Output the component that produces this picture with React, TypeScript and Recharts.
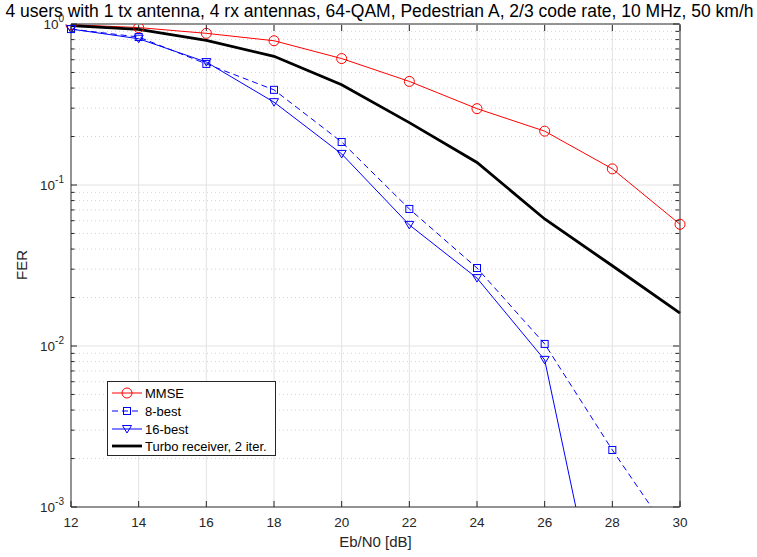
import { LineChart, Line, XAxis, YAxis, ReferenceLine, Legend, Label } from "recharts";

// Eb/N0 in dB and the frame error rate of each receiver
const ebn0 = [12, 14, 16, 18, 20, 22, 24, 26, 28, 30];
const ferMmse = [0.99, 0.95, 0.875, 0.787, 0.61, 0.44, 0.298, 0.216, 0.126, 0.057];
const fer8Best = [0.93, 0.83, 0.565, 0.39, 0.185, 0.071, 0.0305, 0.0103, 0.00226, 0.00055];
const fer16Best = [0.93, 0.81, 0.58, 0.327, 0.156, 0.0565, 0.0264, 0.0082, 0.000085, null];
const ferTurbo = [0.976, 0.927, 0.79, 0.63, 0.42, 0.244, 0.138, 0.0615, 0.0315, 0.016];

const xTicks = [12, 14, 16, 18, 20, 22, 24, 26, 28, 30];
const yMajor = [0.001, 0.01, 0.1, 1];
const yMinor = [
  0.002, 0.003, 0.004, 0.005, 0.006, 0.007, 0.008, 0.009,
  0.02, 0.03, 0.04, 0.05, 0.06, 0.07, 0.08, 0.09,
  0.2, 0.3, 0.4, 0.5, 0.6, 0.7, 0.8, 0.9,
];
const yTicks = [...yMajor, ...yMinor].sort((a, b) => a - b);

const title =
  "4 users with 1 tx antenna, 4 rx antennas, 64-QAM, Pedestrian A, 2/3 code rate, 10 MHz, 50 km/h";

const FONT = '"Liberation Sans", Arial, Helvetica, sans-serif';
const AXIS = "#262626";
const GRID = "#e2e2e2";

type Kind = "circle" | "square" | "triangle" | "none";

const series: Array<{ key: string; name: string; color: string; width: number; dash?: string; marker: Kind }> = [
  { key: "mmse", name: "MMSE", color: "#ff0000", width: 1, marker: "circle" },
  { key: "b8", name: "8-best", color: "#0000ff", width: 1, dash: "6 4", marker: "square" },
  { key: "b16", name: "16-best", color: "#0000ff", width: 1, marker: "triangle" },
  { key: "turbo", name: "Turbo receiver, 2 iter.", color: "#000000", width: 2.8, marker: "none" },
];

const data = ebn0.map((x, i) => ({
  x,
  mmse: ferMmse[i],
  b8: fer8Best[i],
  b16: fer16Best[i],
  turbo: ferTurbo[i],
}));

function Marker({ kind, cx, cy, color }: { kind: Kind; cx: number; cy: number; color: string }) {
  if (kind === "circle") return <circle cx={cx} cy={cy} r={5} fill="none" stroke={color} strokeWidth={1} />;
  if (kind === "square")
    return <rect x={cx - 3.5} y={cy - 3.5} width={7} height={7} fill="none" stroke={color} strokeWidth={1} />;
  if (kind === "triangle")
    return (
      <path
        d={`M${cx - 4.5},${cy - 3.5} L${cx + 4.5},${cy - 3.5} L${cx},${cy + 4} Z`}
        fill="none"
        stroke={color}
        strokeWidth={1}
      />
    );
  return null;
}

const isDecade = (v: number) => yMajor.some((m) => Math.abs(m - v) < m * 1e-6);

function LeftTick(props: any) {
  const { x, y, payload } = props;
  const ax = x + 4;
  const major = isDecade(payload.value);
  return (
    <g>
      <line x1={ax} x2={ax + (major ? 6 : 3.5)} y1={y} y2={y} stroke={AXIS} />
      {major && (
        <text x={ax - 7} y={y + 5} textAnchor="end" fill={AXIS} fontSize={13.5} fontFamily={FONT}>
          <tspan>10</tspan>
          <tspan dy={-7} fontSize={10}>
            {Math.round(Math.log10(payload.value))}
          </tspan>
        </text>
      )}
    </g>
  );
}

function RightTick(props: any) {
  const { x, y, payload } = props;
  const major = isDecade(payload.value);
  return <line x1={x - 1} x2={x - 1 - (major ? 6 : 3.5)} y1={y} y2={y} stroke={AXIS} />;
}

function BottomTick(props: any) {
  const { x, y, payload } = props;
  return (
    <g>
      <line x1={x} x2={x} y1={y} y2={y - 6} stroke={AXIS} />
      <text x={x} y={y + 20} textAnchor="middle" fill={AXIS} fontSize={13.5} fontFamily={FONT}>
        {payload.value}
      </text>
    </g>
  );
}

function TopTick(props: any) {
  const { x, y } = props;
  return <line x1={x} x2={x} y1={y + 1} y2={y + 7} stroke={AXIS} />;
}

function LegendBox() {
  const rows = [12, 30, 48, 65];
  return (
    <svg width={170} height={76} style={{ display: "block" }}>
      <rect x={0.5} y={0.5} width={168} height={74} fill="#fff" stroke={AXIS} strokeWidth={1} />
      {series.map((s, i) => (
        <g key={s.key}>
          <line
            x1={5}
            x2={35}
            y1={rows[i]}
            y2={rows[i]}
            stroke={s.color}
            strokeWidth={s.width}
            strokeDasharray={s.dash}
          />
          <Marker kind={s.marker} cx={20} cy={rows[i]} color={s.color} />
          <text x={38} y={rows[i] + 4.5} fontSize={13} fontFamily={FONT} fill="#000">
            {s.name}
          </text>
        </g>
      ))}
    </svg>
  );
}

export default function App() {
  return (
    <div style={{ position: "absolute", left: 0, top: 0, width: 757, height: 557, background: "#fff" }}>
      <div
        style={{
          position: "absolute",
          left: 0,
          top: 1,
          width: 757,
          textAlign: "center",
          fontFamily: FONT,
          fontSize: 17.5,
          lineHeight: "20px",
          whiteSpace: "nowrap",
          color: "#000",
          paddingLeft: 1,
        }}
      >
        {title}
      </div>
      <LineChart width={757} height={557} data={data} margin={{ top: 23, right: 76, bottom: 20, left: 0 }}>
        <XAxis
          dataKey="x"
          type="number"
          domain={[12, 30]}
          ticks={xTicks}
          interval={0}
          height={30}
          tickSize={0}
          tickMargin={0}
          tickLine={false}
          tick={<BottomTick />}
          axisLine={{ stroke: AXIS }}
        >
          <Label
            content={(p: any) => (
              <text
                x={p.viewBox.x + p.viewBox.width / 2}
                y={547}
                textAnchor="middle"
                fontSize={15}
                fontFamily={FONT}
                fill={AXIS}
              >
                Eb/N0 [dB]
              </text>
            )}
          />
        </XAxis>
        <XAxis
          xAxisId="top"
          dataKey="x"
          type="number"
          orientation="top"
          domain={[12, 30]}
          ticks={xTicks}
          interval={0}
          height={1}
          tickSize={0}
          tickMargin={0}
          tickLine={false}
          tick={<TopTick />}
          axisLine={{ stroke: AXIS }}
        />
        <YAxis
          scale="log"
          domain={[0.001, 1]}
          allowDataOverflow
          ticks={yTicks}
          interval={0}
          width={71}
          tickSize={0}
          tickMargin={4}
          tickLine={false}
          tick={<LeftTick />}
          axisLine={{ stroke: AXIS }}
        >
          <Label
            content={() => (
              <text
                x={27}
                y={265}
                transform="rotate(-90 27 265)"
                textAnchor="middle"
                fontSize={15}
                fontFamily={FONT}
                fill={AXIS}
              >
                FER
              </text>
            )}
          />
        </YAxis>
        <YAxis
          yAxisId="right"
          orientation="right"
          scale="log"
          domain={[0.001, 1]}
          allowDataOverflow
          ticks={yTicks}
          interval={0}
          width={1}
          tickSize={0}
          tickMargin={0}
          tickLine={false}
          tick={<RightTick />}
          axisLine={{ stroke: AXIS }}
        />

        {yMinor.map((v) => (
          <ReferenceLine key={`m${v}`} y={v} stroke="#d4d4d4" strokeDasharray="1 3" />
        ))}
        {[0.01, 0.1].map((v) => (
          <ReferenceLine key={`M${v}`} y={v} stroke={GRID} />
        ))}
        {xTicks.slice(1, -1).map((v) => (
          <ReferenceLine key={`x${v}`} x={v} stroke={GRID} />
        ))}

        {series.map((s) => (
          <Line
            key={s.key}
            dataKey={s.key}
            name={s.name}
            type="linear"
            stroke={s.color}
            strokeWidth={s.width}
            strokeDasharray={s.dash}
            isAnimationActive={false}
            connectNulls={false}
            dot={(p: any) =>
              s.marker === "none" || p.cy == null || p.value == null ? (
                <g key={`${s.key}-${p.index}`} />
              ) : (
                <Marker key={`${s.key}-${p.index}`} kind={s.marker} cx={p.cx} cy={p.cy} color={s.color} />
              )
            }
            activeDot={false}
          />
        ))}

        <Legend
          verticalAlign="middle"
          layout="horizontal"
          wrapperStyle={{ left: 107, top: 381, width: 170, height: 76 }}
          content={() => <LegendBox />}
        />
      </LineChart>
    </div>
  );
}
